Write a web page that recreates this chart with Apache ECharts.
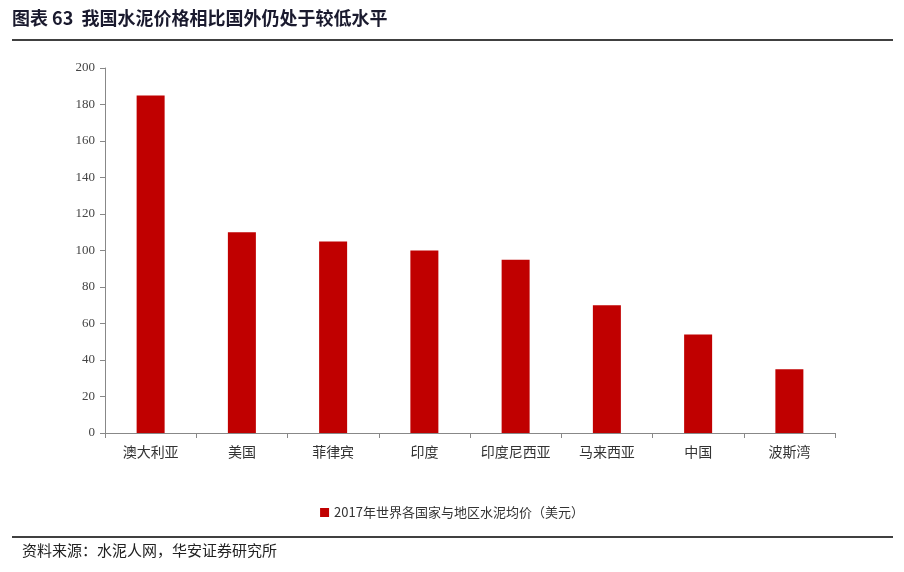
<!DOCTYPE html>
<html><head><meta charset="utf-8">
<script src="https://cdn.jsdelivr.net/npm/echarts@6/dist/echarts.min.js"></script>
<style>html,body{margin:0;padding:0;background:#fff}#c{width:904px;height:572px}</style>
</head><body><div id="c"></div>
<script>
const categories = ['澳大利亚','美国','菲律宾','印度','印度尼西亚','马来西亚','中国','波斯湾'];
const prices = [185,110,105,100,95,70,54,35];
const seriesName = '2017年世界各国家与地区水泥均价（美元）';
const titleText = '图表 63  我国水泥价格相比国外仍处于较低水平';
const sourceText = '资料来源：水泥人网，华安证券研究所';
const font = '"Noto Sans CJK SC", "Liberation Serif", serif';
const chart = echarts.init(document.getElementById('c'));
chart.setOption({
  animation:false,
  textStyle:{fontFamily:font},
  grid:{left:105,right:69,top:68,bottom:139},
  legend:{bottom:48,left:'center',itemWidth:9,itemHeight:9,icon:'rect',textStyle:{fontSize:13,color:'#333',fontFamily:font}},
  xAxis:{type:'category',data:categories,axisTick:{show:true,alignWithLabel:false,length:5,lineStyle:{color:'#888'}},
    axisLine:{lineStyle:{color:'#888'}},axisLabel:{fontSize:14,color:'#333',margin:12}},
  yAxis:{type:'value',min:0,max:200,interval:20,splitLine:{show:false},
    axisLine:{show:true,lineStyle:{color:'#888'}},axisTick:{show:true,length:5,lineStyle:{color:'#888'}},
    axisLabel:{fontSize:13,color:'#444',fontFamily:'"Liberation Serif", serif',margin:10}},
  series:[{name:seriesName,type:'bar',data:prices,barWidth:28,itemStyle:{color:'#C00000'}}],
  graphic:[
    {type:'text',left:12,top:9,style:{text:titleText,font:'bold 18px '+font,fill:'#1a1a2e'}},
    {type:'line',shape:{x1:12,y1:40,x2:893,y2:40},style:{stroke:'#000',lineWidth:1.5}},
    {type:'line',shape:{x1:12,y1:537,x2:893,y2:537},style:{stroke:'#000',lineWidth:1.5}},
    {type:'text',left:22,top:543,style:{text:sourceText,font:'15px '+font,fill:'#222'}}
  ]
});
</script></body></html>
